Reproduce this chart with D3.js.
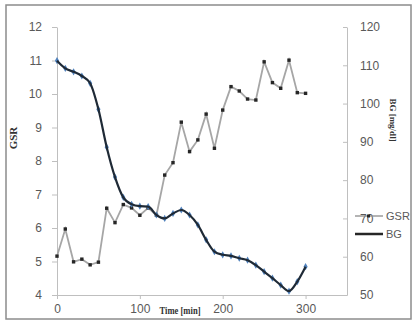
<!DOCTYPE html>
<html>
<head>
<meta charset="utf-8">
<script src="https://cdn.jsdelivr.net/npm/d3@7"></script>
<style>
  body { margin: 0; background: #fff; }
  svg { display: block; }
</style>
</head>
<body>
<svg id="chart" width="416" height="324"></svg>
<script>
// Time points (min), every 10 minutes
const times = d3.range(0, 301, 10);
// GSR values (left axis)
const gsr = [5.16, 5.97, 4.99, 5.07, 4.9, 4.98, 6.59, 6.16, 6.7, 6.6, 6.38,
  6.6, 6.38, 7.58, 7.95, 9.16, 8.28, 8.63, 9.4, 8.38, 9.52, 10.22, 10.09,
  9.85, 9.82, 10.96, 10.34, 10.17, 11.01, 10.04, 10.02];
// BG values in mg/dl (right axis)
const bg = [111.2, 109.2, 108.3, 107.2, 105.3, 98.5, 88.6, 80.8, 75.5, 73.7,
  73.2, 73.1, 70.9, 70.0, 71.3, 72.2, 70.9, 68.3, 64.4, 61.3, 60.5, 60.2,
  59.6, 59.1, 57.8, 56.1, 54.4, 52.6, 51.0, 53.5, 57.4];
const xTicks = [0, 100, 200, 300];
const leftTicks = [4, 5, 6, 7, 8, 9, 10, 11, 12];
const rightTicks = [50, 60, 70, 80, 90, 100, 110, 120];

const svg = d3.select("#chart");
const labelColor = "#595959";
const axisColor = "#bfbfbf";

// Chart border
svg.append("rect")
  .attr("x", 6).attr("y", 5)
  .attr("width", 405).attr("height", 314)
  .attr("fill", "#fff")
  .attr("stroke", "#8c8c8c")
  .attr("stroke-width", 1.5);

const x = d3.scaleLinear().domain([0, 350]).range([57, 347]);
const yL = d3.scaleLinear().domain([4, 12]).range([295, 27]);
const yR = d3.scaleLinear().domain([50, 120]).range([295, 27]);

// Axes
function styleAxis(g) {
  g.select(".domain").attr("stroke", axisColor);
  g.selectAll(".tick line").attr("stroke", axisColor);
  g.selectAll(".tick text")
    .attr("fill", labelColor)
    .attr("font-family", "Liberation Sans, Arial, sans-serif")
    .attr("font-size", 12);
}

svg.append("g")
  .attr("transform", "translate(0,295)")
  .call(d3.axisBottom(x).tickValues(xTicks).tickSize(4).tickSizeOuter(0))
  .call(styleAxis)
  .call((g) => g.selectAll(".tick text").attr("dy", "0.95em"));

svg.append("g")
  .attr("transform", "translate(57,0)")
  .call(d3.axisLeft(yL).tickValues(leftTicks).tickSize(5).tickSizeOuter(0)
    .tickPadding(10))
  .call(styleAxis);

svg.append("g")
  .attr("transform", "translate(347,0)")
  .call(d3.axisLeft(yR).tickValues(rightTicks).tickSize(4).tickSizeOuter(0))
  .call(styleAxis)
  .call((g) => g.selectAll(".tick text")
    .attr("text-anchor", "start")
    .attr("x", 13));

// Axis titles
svg.append("text")
  .attr("transform", "translate(17,138) rotate(-90)")
  .attr("text-anchor", "middle")
  .attr("font-family", "Liberation Serif, serif")
  .attr("font-weight", "bold")
  .attr("font-size", 11)
  .attr("fill", "#333")
  .text("GSR");

svg.append("text")
  .attr("transform", "translate(390,120) rotate(90)")
  .attr("text-anchor", "middle")
  .attr("font-family", "Liberation Serif, serif")
  .attr("font-weight", "bold")
  .attr("font-size", 9)
  .attr("fill", "#333")
  .text("BG [mg/dl]");

svg.append("text")
  .attr("x", 180).attr("y", 314)
  .attr("text-anchor", "middle")
  .attr("font-family", "Liberation Serif, serif")
  .attr("font-weight", "bold")
  .attr("font-size", 10)
  .attr("textLength", 41)
  .attr("lengthAdjust", "spacingAndGlyphs")
  .attr("fill", "#333")
  .text("Time [min]");

// GSR line
const gsrData = times.map((t, i) => ({ t: t, v: gsr[i] }));
svg.append("path")
  .datum(gsrData)
  .attr("fill", "none")
  .attr("stroke", "#a6a6a6")
  .attr("stroke-width", 1.8)
  .attr("d", d3.line().x((d) => x(d.t)).y((d) => yL(d.v)));

svg.selectAll(".gsr-pt")
  .data(gsrData)
  .enter()
  .append("rect")
  .attr("x", (d) => x(d.t) - 1.7)
  .attr("y", (d) => yL(d.v) - 1.7)
  .attr("width", 3.4).attr("height", 3.4)
  .attr("fill", "#262626");

// BG line
const bgData = times.map((t, i) => ({ t: t, v: bg[i] }));
svg.selectAll(".bg-pt")
  .data(bgData)
  .enter()
  .append("path")
  .attr("transform", (d) => `translate(${x(d.t)},${yR(d.v)})`)
  .attr("d", d3.symbol(d3.symbolDiamond, 15))
  .attr("fill", "#4f81bd");

svg.append("path")
  .datum(bgData)
  .attr("fill", "none")
  .attr("stroke", "#1f2a36")
  .attr("stroke-width", 2.2)
  .attr("d", d3.line().curve(d3.curveMonotoneX).x((d) => x(d.t)).y((d) => yR(d.v)));

// Legend
const legend = svg.append("g");
legend.append("line")
  .attr("x1", 355).attr("x2", 383).attr("y1", 216).attr("y2", 216)
  .attr("stroke", "#8c8c8c").attr("stroke-width", 1.3);
legend.append("rect")
  .attr("x", 367).attr("y", 214.5).attr("width", 3).attr("height", 3)
  .attr("fill", "#262626");
legend.append("text")
  .attr("x", 386).attr("y", 220)
  .attr("font-family", "Liberation Sans, Arial, sans-serif")
  .attr("font-size", 11).attr("fill", labelColor)
  .text("GSR");
legend.append("line")
  .attr("x1", 355).attr("x2", 383).attr("y1", 234).attr("y2", 234)
  .attr("stroke", "#262626").attr("stroke-width", 2.5);
legend.append("text")
  .attr("x", 386).attr("y", 238)
  .attr("font-family", "Liberation Sans, Arial, sans-serif")
  .attr("font-size", 11).attr("fill", labelColor)
  .text("BG");
</script>
</body>
</html>
